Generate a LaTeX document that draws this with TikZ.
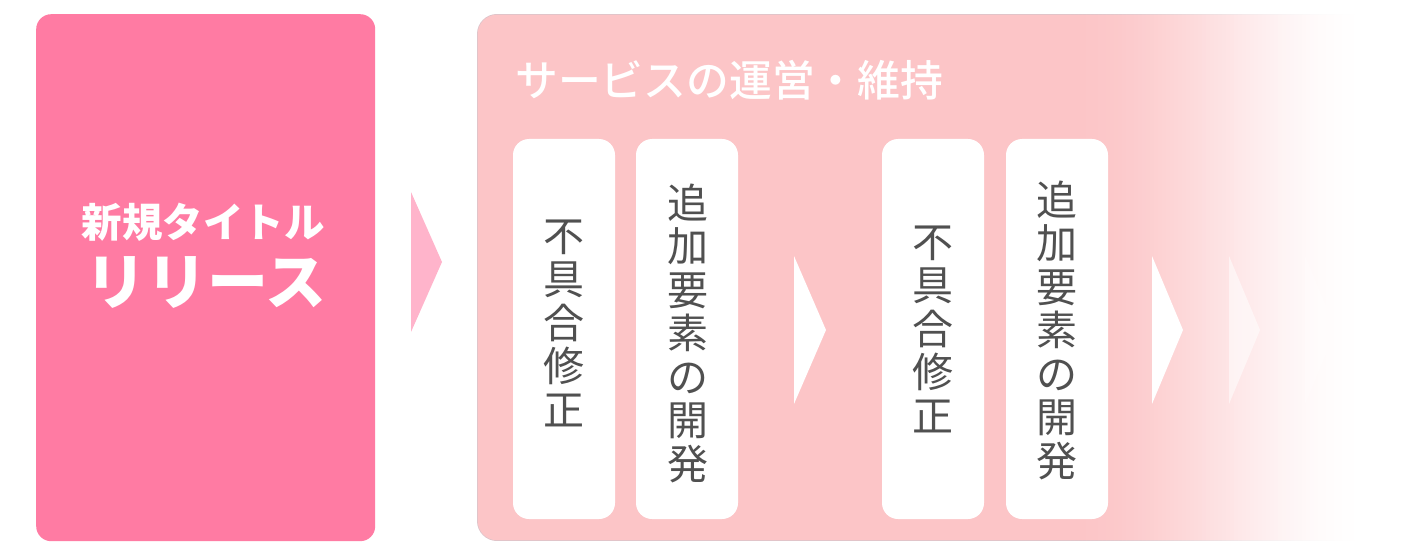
\documentclass[tikz,border=0pt]{standalone}
\usepackage{fontspec}
\newfontfamily\jp{Noto Sans CJK JP}
\newfontfamily\jpm{Noto Sans CJK JP}[UprightFont={* Medium}]
\definecolor{leftpink}{RGB}{255,123,163}
\definecolor{arrowpink}{RGB}{255,180,203}
\definecolor{boxpink}{RGB}{252,197,199}
\definecolor{boxedge}{RGB}{222,196,202}
\definecolor{txtgray}{RGB}{80,80,80}
\tikzset{
  card/.style={fill=white, draw=none, rounded corners=16pt, minimum width=102pt, minimum height=380pt, inner sep=0pt},
  cardtext/.style={text=txtgray, align=center, inner sep=0pt, font=\jp\fontsize{41}{43.5}\selectfont},
  chev/.style={fill=white, draw=none},
}
\begin{document}
\begin{tikzpicture}[x=1pt,y=-1pt]
\useasboundingbox (0,0) rectangle (1426,556);
% left box
\node[fill=leftpink, draw=none, rounded corners=15pt, minimum width=339pt, minimum height=527pt, inner sep=0pt, anchor=north west] (release) at (36,14) {};
\node[text=white, inner sep=0pt, font=\jp\bfseries\fontsize{40.5}{40.5}\selectfont] (rel1) at (203,222) {新規タイトル};
\node[text=white, inner sep=0pt, font=\jp\bfseries\fontsize{61}{61}\selectfont] (rel2) at (206,283) {リリース};
% first chevron
\fill[arrowpink] (411,192) -- (442,262) -- (411,332) -- cycle;
% big box, fading to white on the right
\node[draw=none, minimum width=918pt, minimum height=527pt, inner sep=0pt, anchor=north west] (ops) at (477,14) {};
\begin{scope}
\clip[rounded corners=20pt] (477,14) rectangle (1395,541);
\fill[boxedge] (477,14) rectangle (1071,541);
\foreach \i in {0,...,74}{
  \pgfmathsetmacro{\t}{(\i+0.5)/75}
  \pgfmathsetmacro{\pc}{100-100*(3*\t*\t-2*\t*\t*\t)}
  \fill[boxedge!\pc!white] (1070+4*\i,14) rectangle (1074.6+4*\i,541);
}
\end{scope}
\begin{scope}
\clip[rounded corners=19.2pt] (477.8,14.8) rectangle (1394.2,540.2);
\fill[boxpink] (477,14) rectangle (1071,541);
\foreach \i in {0,...,74}{
  \pgfmathsetmacro{\t}{(\i+0.5)/75}
  \pgfmathsetmacro{\pc}{100-100*(3*\t*\t-2*\t*\t*\t)}
  \fill[boxpink!\pc!white] (1070+4*\i,14) rectangle (1074.6+4*\i,541);
}
\fill[white] (1370,14) rectangle (1395,541);
\end{scope}
\node[text=white, inner sep=0pt, anchor=west, font=\jpm\fontsize{42.8}{42.8}\selectfont] (title) at (515,80) {サービスの運営・維持};
% cards
\node[card] (c1) at (564,329) {};
\node[card] (c2) at (687,329) {};
\node[card] (c3) at (933,329) {};
\node[card] (c4) at (1057,329) {};
\node[cardtext] (t1) at (564,323) {不\\具\\合\\修\\正};
\node[cardtext] (t2) at (688,333) {追\\加\\要\\素\\の\\開\\発};
\node[cardtext] (t3) at (933,329) {不\\具\\合\\修\\正};
\node[cardtext] (t4) at (1057,330) {追\\加\\要\\素\\の\\開\\発};
% chevrons inside
\fill[chev] (794,256) -- (826,330) -- (794,404) -- cycle;
\fill[chev] (1152,256) -- (1183,330) -- (1152,404) -- cycle;
\fill[chev, opacity=0.55] (1229,256) -- (1260,330) -- (1229,404) -- cycle;
\fill[chev, opacity=0.3] (1305,256) -- (1336,330) -- (1305,404) -- cycle;
\end{tikzpicture}
\end{document}
